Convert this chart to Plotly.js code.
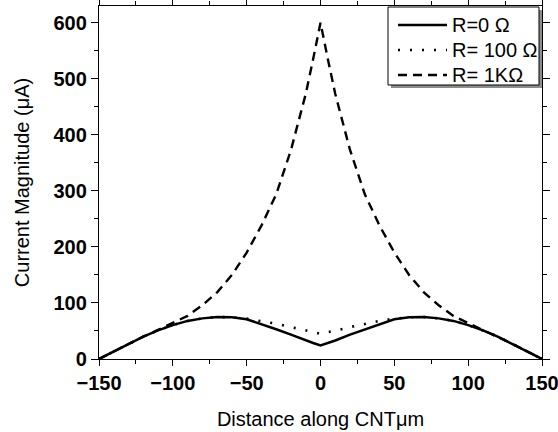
<!DOCTYPE html>
<html>
<head>
<meta charset="utf-8">
<script src="https://cdn.plot.ly/plotly-3.0.1.min.js"></script>
<style>html,body{margin:0;padding:0;background:#fff;}#chart{width:558px;height:432px;}</style>
</head>
<body>
<div id="chart"></div>
<script>
var distance = [-150,-140,-130,-120,-110,-100,-90,-80,-70,-60,-50,-40,-30,-20,-10,-5,0,5,10,20,30,40,50,60,70,80,90,100,110,120,130,140,150];
var r0 = [0,13.5,27,40,51,60.5,68,72.5,75,74.5,71,62.5,53,43.5,33,28.5,24,28.5,33,43.5,53,62.5,71,74.5,75,72.5,68,60.5,51,40,27,13.5,0];
var r100 = [0,13.5,27,40,51,60.5,68,72.5,75,74.5,72,68,63,57,50.5,48,45,48,50.5,57,63,68,72,74.5,75,72.5,68,60.5,51,40,27,13.5,0];
var r1k = [0,13.5,27,40,52,64,77,96,119,150,190,238,294,373,473,535,600,535,473,373,294,238,190,150,119,96,77,64,52,40,27,13.5,0];
var seriesNames = ["R=0 \u03A9", "R= 100 \u03A9", "R= 1K\u03A9"];
var xTitle = "Distance along CNT\u03BCm";
var yTitle = "Current Magnitude (\u03BCA)";

var font = "Liberation Sans, Arial, sans-serif";
var styles = [
  {color: "#000", width: 2.5, dash: "solid"},
  {color: "#000", width: 2.6, dash: "2px,10px"},
  {color: "#000", width: 2.4, dash: "9px,6px"}
];
var seriesY = [r0, r100, r1k];
var traces = seriesY.map(function (ys, i) {
  return {x: distance, y: ys, name: seriesNames[i], mode: "lines", line: styles[i]};
});

// legend drawn by hand (paper coordinates)
var px = function (p) { return (p - 99) / 443; };
var py = function (p) { return (359 - p) / 353; };
var shapes = [
  {type: "rect", xref: "paper", yref: "paper", x0: px(391), x1: px(542), y0: py(88), y1: py(10),
   fillcolor: "#8c8c8c", line: {width: 0}, layer: "above"},
  {type: "rect", xref: "paper", yref: "paper", x0: px(388), x1: px(539), y0: py(85), y1: py(7),
   fillcolor: "#fff", line: {color: "#000", width: 1}, layer: "above"}
];
var annotations = [];
var rowY = [25, 50, 75];
seriesNames.forEach(function (nm, i) {
  shapes.push({type: "line", xref: "paper", yref: "paper", x0: px(398), x1: px(447), y0: py(rowY[i]), y1: py(rowY[i]),
               line: styles[i], layer: "above"});
  annotations.push({xref: "paper", yref: "paper", x: px(450), y: py(rowY[i]), xanchor: "left", yanchor: "middle",
                    text: nm, showarrow: false, font: {family: font, size: 20, color: "#000"}});
});

var layout = {
  width: 558, height: 432,
  margin: {l: 99, r: 16, t: 6, b: 73},
  paper_bgcolor: "#fff", plot_bgcolor: "#fff",
  showlegend: false,
  shapes: shapes,
  annotations: annotations,
  xaxis: {range: [-150, 150], tickvals: [-150,-100,-50,0,50,100,150], ticks: "outside", ticklen: 6, tickwidth: 1, tickcolor: "#000",
          showline: true, linecolor: "#000", linewidth: 1.2, mirror: "ticks", zeroline: false, showgrid: false,
          ticklabeloverflow: "allow",
          minor: {tickvals: [-125,-75,-25,25,75,125], ticks: "outside", ticklen: 4, tickcolor: "#000"},
          tickfont: {family: font, size: 20, weight: "bold", color: "#000"},
          title: {text: xTitle, font: {family: font, size: 20, color: "#000"}, standoff: 18}},
  yaxis: {range: [0, 630], tickvals: [0,100,200,300,400,500,600], ticks: "outside", ticklen: 7, tickwidth: 1, tickcolor: "#000",
          showline: true, linecolor: "#000", linewidth: 1.2, mirror: "ticks", zeroline: false, showgrid: false,
          minor: {tickvals: [50,150,250,350,450,550], ticks: "outside", ticklen: 4, tickcolor: "#000"},
          tickfont: {family: font, size: 20, weight: "bold", color: "#000"},
          title: {text: yTitle, font: {family: font, size: 20, color: "#000"}, standoff: 18}}
};
Plotly.newPlot("chart", traces, layout, {displayModeBar: false, staticPlot: true});
</script>
</body>
</html>
